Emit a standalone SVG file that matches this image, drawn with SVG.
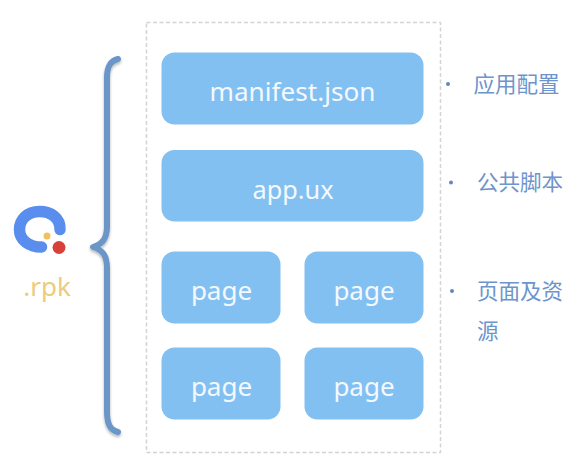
<svg xmlns="http://www.w3.org/2000/svg" width="586" height="474" viewBox="0 0 586 474">
<defs>
<filter id="shadow" x="-50%" y="-5%" width="200%" height="110%"><feGaussianBlur in="SourceAlpha" stdDeviation="1.5" result="b"/><feOffset in="b" dy="2" result="o"/><feComponentTransfer in="o" result="s"><feFuncA type="linear" slope="0.3"/></feComponentTransfer><feMerge><feMergeNode in="s"/><feMergeNode in="SourceGraphic"/></feMerge></filter>
</defs>
<style>
text{font-family:"Noto Sans","Open Sans","Noto Sans CJK SC",sans-serif}
.box{fill:#83c0f2}
.lbl{fill:#f3f9fe;font-size:26px;text-anchor:middle}
.note{fill:#6d94cb;font-size:21.500px;font-family:"Noto Sans CJK SC",sans-serif}
.dot{fill:#5f88bf}
</style>
<rect width="586" height="474" fill="#fff"/>
<g id="frame"><rect x="146.500" y="22.500" width="294" height="430" fill="none" stroke="#d4d4d4" stroke-width="1.500" stroke-dasharray="4 2.500"/></g>
<g id="connectors"><path d="M118 59C110 61 107 67 107 78V226C107 238 103 244 93 247C103 250 107 256 107 268V411C107 424 110 430 118 432" fill="none" stroke="#6a96c8" stroke-width="6" stroke-linecap="round" stroke-linejoin="round" filter="url(#shadow)"/></g>
<g id="manifest"><rect class="box" x="161.500" y="52.500" width="262" height="72" rx="13"/><text class="lbl" x="292.500" y="101" textLength="166" lengthAdjust="spacingAndGlyphs">manifest.json</text></g>
<g id="app"><rect class="box" x="161.500" y="150" width="262" height="71.500" rx="13"/><text class="lbl" x="293" y="199" textLength="81" lengthAdjust="spacingAndGlyphs">app.ux</text></g>
<g id="page1"><rect class="box" x="161.500" y="251.500" width="119" height="72" rx="13"/><text class="lbl" x="221.500" y="300">page</text></g>
<g id="page2"><rect class="box" x="304.500" y="251.500" width="119" height="72" rx="13"/><text class="lbl" x="364" y="300">page</text></g>
<g id="page3"><rect class="box" x="161.500" y="347.500" width="119" height="72" rx="13"/><text class="lbl" x="221.500" y="396">page</text></g>
<g id="page4"><rect class="box" x="304.500" y="347.500" width="119" height="72" rx="13"/><text class="lbl" x="364" y="396">page</text></g>
<g id="rpk">
<path d="M60 229.500C60.500 218 51 211.500 39.500 211.500C27 211.500 19.500 220 19.500 229.500C19.500 240 29 247 41.500 247" fill="none" stroke="#5a8eee" stroke-width="11.500" stroke-linecap="round"/>
<circle cx="47" cy="236" r="3.500" fill="#eec35f"/>
<circle cx="59" cy="247.500" r="6.500" fill="#d8403a"/>
<text x="47" y="296" font-size="26" fill="#eccb7c" text-anchor="middle">.rpk</text>
</g>
<g id="note1"><circle class="dot" cx="448" cy="84" r="2"/><text class="note" x="473.500" y="92">应用配置</text></g>
<g id="note2"><circle class="dot" cx="451" cy="182.500" r="2"/><text class="note" x="477" y="190">公共脚本</text></g>
<g id="note3"><circle class="dot" cx="452" cy="291" r="2"/><text class="note" x="477" y="299">页面及资</text><text class="note" x="477" y="339">源</text></g>
</svg>
